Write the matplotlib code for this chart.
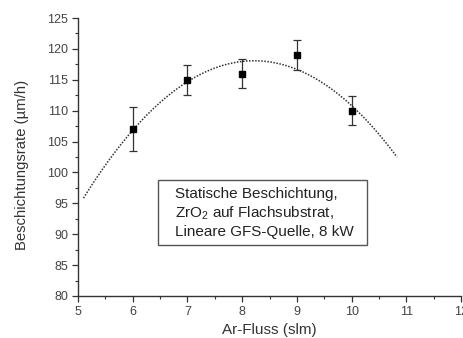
import matplotlib
matplotlib.use('Agg')
import matplotlib.pyplot as plt
from matplotlib.ticker import MultipleLocator
from matplotlib.patches import Rectangle
import numpy as np

# Messwerte
ar_fluss = [6, 7, 8, 9, 10]
rate = [107.0, 115.0, 116.0, 119.0, 110.0]
fehler = [3.6, 2.45, 2.3, 2.4, 2.35]

plt.rcParams['font.family'] = ['Liberation Sans', 'DejaVu Sans']
plt.rcParams['mathtext.fontset'] = 'custom'
plt.rcParams['mathtext.rm'] = 'Liberation Sans'

fig = plt.figure(figsize=(4.63, 3.38), dpi=100)
ax = fig.add_axes([0.1685, 0.1243, 0.8272, 0.8224])

# quadratischer Fit
koeff = np.polyfit(ar_fluss, rate, 2)
xf = np.linspace(5.1, 10.83, 200)
ax.plot(xf, np.polyval(koeff, xf), linestyle=(0, (1, 1)), color='#333333', lw=1.1)

ax.errorbar(ar_fluss, rate, yerr=fehler, fmt='s', color='black', ms=5,
            ecolor='#333333', elinewidth=0.9, capsize=3, capthick=0.9)

ax.set_xlim(5, 12)
ax.set_ylim(80, 125)
ax.xaxis.set_major_locator(MultipleLocator(1))
ax.xaxis.set_minor_locator(MultipleLocator(0.5))
ax.yaxis.set_major_locator(MultipleLocator(5))
ax.yaxis.set_minor_locator(MultipleLocator(2.5))
ax.spines['top'].set_visible(False)
ax.spines['right'].set_visible(False)
for s in ['left', 'bottom']:
    ax.spines[s].set_color('#333333')
    ax.spines[s].set_linewidth(1.0)
ax.tick_params(which='major', direction='out', length=4, width=0.9, colors='#333333',
               labelsize=9, labelcolor='#444444', pad=3)
ax.tick_params(which='minor', direction='out', length=2.5, width=0.8, colors='#333333')

ax.set_xlabel('Ar-Fluss (slm)', fontsize=11, color='#333333', labelpad=4)
ax.set_ylabel('Beschichtungsrate (µm/h)', fontsize=10.7, color='#333333')
ax.yaxis.set_label_coords(-0.127, 0.47)

# Kasten mit Beschreibung
ax.add_patch(Rectangle((0.2089, 0.1835), 0.5457, 0.2338, transform=ax.transAxes,
                       fc='white', ec='#555555', lw=1.0, zorder=3))
ax.text(0.253, 0.2986,
        'Statische Beschichtung,\nZrO$_2$ auf Flachsubstrat,\nLineare GFS-Quelle, 8 kW',
        transform=ax.transAxes, fontsize=11, color='#222222', linespacing=1.27,
        va='center', ha='left', zorder=4)

fig.savefig('out.png', dpi=100)
